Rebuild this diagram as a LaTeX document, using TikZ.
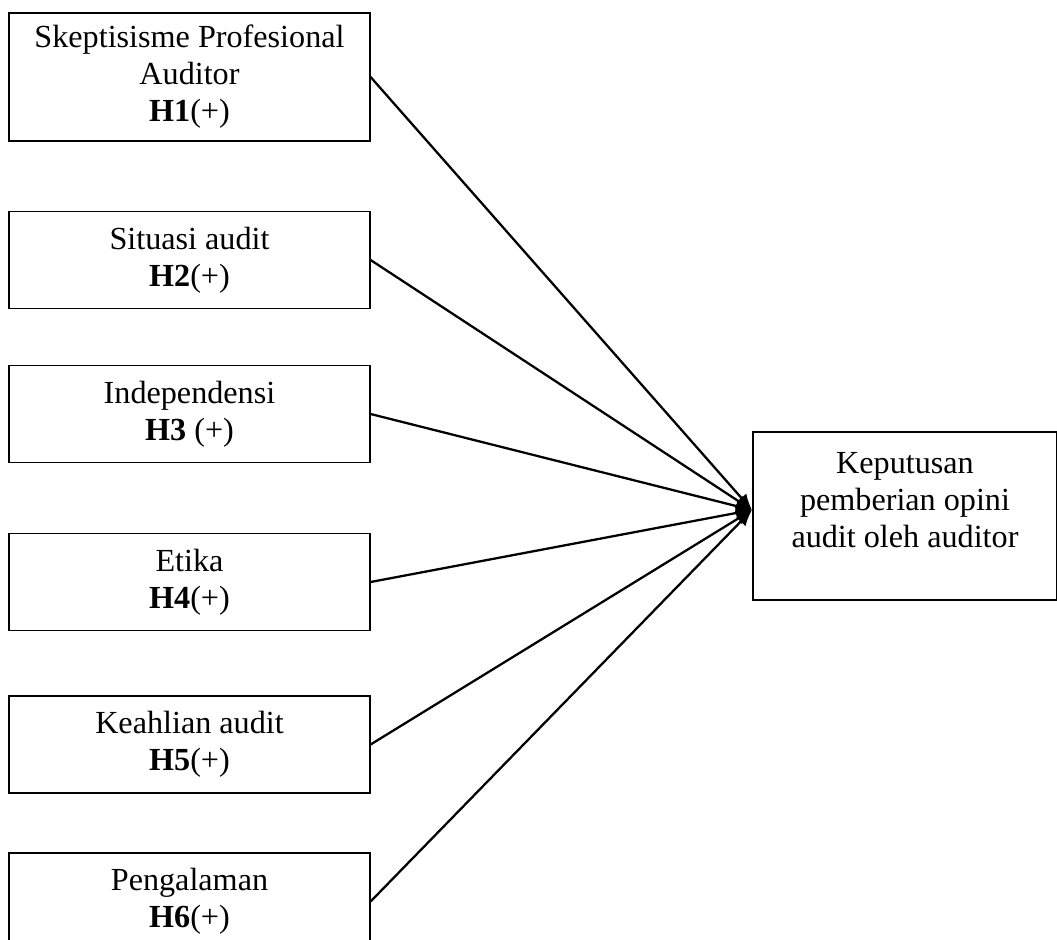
\documentclass[tikz,border=0pt]{standalone}
\usepackage{fontspec}
\setmainfont{Liberation Serif}
\usetikzlibrary{arrows.meta}

\begin{document}
\begin{tikzpicture}[x=0.373pt, y=-0.373pt,
                varbox/.style={draw, line width=0.5pt, minimum width=134.6pt, minimum height=36.2pt, align=center, inner sep=0pt, font=\fontsize{12}{13.8}\selectfont},
                pijl/.style={-{Latex[length=6pt,width=5pt]}, line width=0.85pt}]
                \useasboundingbox (0,0) rectangle (1057,940);
                
                \node[varbox, minimum height=47.7pt] (h1) at (189.5, 77) {Skeptisisme Profesional\\Auditor\\\textbf{H1}(+)};
                \node[varbox] (h2) at (189.5, 260) {Situasi audit\\\textbf{H2}(+)};
                \node[varbox] (h3) at (189.5, 414) {Independensi\\\textbf{H3} (+)};
                \node[varbox] (h4) at (189.5, 582) {Etika\\\textbf{H4}(+)};
                \node[varbox] (h5) at (189.5, 744.5) {Keahlian audit\\\textbf{H5}(+)};
                \node[varbox] (h6) at (189.5, 901.5) {Pengalaman\\\textbf{H6}(+)};
                
                % variabel dependen
                \node[draw, line width=0.5pt, minimum width=113.4pt, minimum height=62.7pt, inner sep=0pt] (dv) at (905, 516) {};
                \node[align=center, font=\fontsize{12}{13.8}\selectfont] (dvtekst) at (905, 500) {Keputusan\\pemberian opini\\audit oleh auditor};
                \coordinate (tip) at (752, 510);
                
                \draw[pijl] (h1.east) -- (tip);
                \draw[pijl] (h2.east) -- (tip);
                \draw[pijl] (h3.east) -- (tip);
                \draw[pijl] (h4.east) -- (tip);
                \draw[pijl] (h5.east) -- (tip);
                \draw[pijl] (h6.east) -- (tip);
\end{tikzpicture}
\end{document}
